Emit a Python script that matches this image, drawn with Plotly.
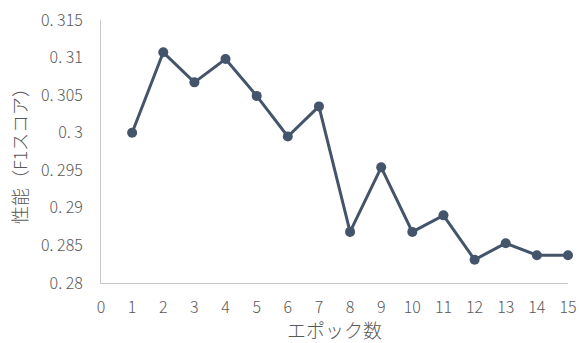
import plotly.graph_objects as go

epochs = list(range(1, 16))
f1_scores = [0.3000, 0.3107, 0.3067, 0.3098, 0.3049, 0.2995, 0.3035,
             0.2868, 0.2954, 0.2868, 0.2890, 0.2831, 0.2853, 0.2837, 0.2837]

y_tick_vals = [0.28, 0.285, 0.29, 0.295, 0.30, 0.305, 0.31, 0.315]
y_tick_labels = ["0. 28", "0. 285", "0. 29", "0. 295", "0. 3", "0. 305", "0. 31", "0. 315"]
x_tick_vals = list(range(0, 16))

x_title = "エポック数"
y_title = "性能（F1スコア）"

line_color = "#44546A"
text_color = "#595959"
axis_color = "#C8C8C8"
font_family = "Noto Sans CJK JP"

fig = go.Figure(go.Scatter(
    x=epochs, y=f1_scores, mode="lines+markers",
    line=dict(color=line_color, width=3),
    marker=dict(color=line_color, size=10),
    cliponaxis=False,
))

fig.update_layout(
    width=579, height=343,
    margin=dict(l=101, r=11, t=20, b=60, autoexpand=False),
    paper_bgcolor="white", plot_bgcolor="white",
    showlegend=False,
    font=dict(family=font_family, color=text_color, size=15, weight=300),
)
fig.update_xaxes(
    range=[0, 15], tickvals=x_tick_vals, showgrid=False, zeroline=False,
    showline=True, linecolor=axis_color, linewidth=1, ticks="", automargin=False,
    ticklabelstandoff=10, tickfont=dict(size=16, color=text_color, weight=300),
    title=dict(text=x_title, standoff=4, font=dict(size=19, color=text_color, weight=300)),
)
fig.update_yaxes(
    range=[0.28, 0.315], tickvals=y_tick_vals, ticktext=y_tick_labels,
    showgrid=False, zeroline=False, automargin=False,
    showline=True, linecolor=axis_color, linewidth=1, ticks="",
    ticklabelstandoff=14, tickfont=dict(size=16, color=text_color, weight=300),
    title=dict(text=y_title, standoff=8, font=dict(size=18, color=text_color, weight=300)),
)

fig.write_html("out.html")
